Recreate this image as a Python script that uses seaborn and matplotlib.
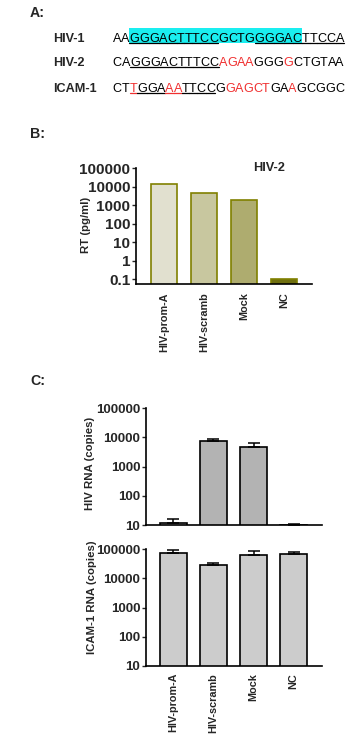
import numpy as np
import pandas as pd
import matplotlib
matplotlib.use('Agg')
import matplotlib.pyplot as plt
import seaborn as sns
from matplotlib.lines import Line2D
from matplotlib.patches import Rectangle

# ---- data ----
conditions = ['HIV-prom-A', 'HIV-scramb', 'Mock', 'NC']
rt_values = [13600, 4500, 1860, 0.1]
hiv_rna = [11.5, 7400, 4700, 10.4]
hiv_rna_err = [4.2, 1400, 1600, 0.3]
icam_rna = [72000, 28000, 62000, 67000]
icam_rna_err = [19000, 5000, 23000, 11000]

seq_names = ['HIV-1', 'HIV-2', 'ICAM-1']
seqs = ['AAGGGACTTTCCGCTGGGGACTTCCA',
        'CAGGGACTTTCCAGAAGGGGCTGTAA',
        'CTTGGAAATTCCGGAGCTGAAGCGGC']
red_pos = [[], [12, 13, 14, 15, 19], [2, 6, 7, 13, 14, 15, 16, 17, 20]]
underline_pos = [list(range(2, 12)) + list(range(16, 26)), list(range(2, 12)), list(range(2, 12))]
highlight_pos = [(2, 20), None, None]

W, H = 353, 751
sns.set_style('white')
plt.rcParams['font.family'] = ['Liberation Sans', 'DejaVu Sans']
fig = plt.figure(figsize=(W / 100, H / 100), dpi=100)


def fx(px):
    return px / W


def fy(py):
    return 1 - py / H


def make_axes(left, top, right, bottom):
    return fig.add_axes([fx(left), fy(bottom), (right - left) / W, (bottom - top) / H])


# ---- panel A: sequences ----
fig.text(fx(30), fy(17), 'A:', fontsize=10.2, fontweight='bold', va='baseline')
renderer = fig.canvas.get_renderer()
baselines = [41.7, 66.0, 91.7]
probe = fig.text(0, 0, '', fontsize=9.1)
for row, (name, seq) in enumerate(zip(seq_names, seqs)):
    yb = baselines[row]
    fig.text(fx(53), fy(yb), name, fontsize=9.1, fontweight='bold', va='baseline')
    x0 = 112.7
    widths = []
    for i in range(len(seq) + 1):
        probe.set_text(seq[:i] if i else '')
        widths.append(probe.get_window_extent(renderer).width if i else 0.0)
    if highlight_pos[row]:
        a, b = highlight_pos[row]
        fig.patches.append(Rectangle((fx(x0 + widths[a]), fy(yb + 1.2)),
                                     (widths[b + 1] - widths[a]) / W, 15 / H,
                                     transform=fig.transFigure, facecolor='#1aeef0',
                                     edgecolor='none', zorder=0))
    for i, ch in enumerate(seq):
        col = '#f03030' if i in red_pos[row] else 'black'
        fig.text(fx(x0 + widths[i]), fy(yb), ch, fontsize=9.1, color=col, va='baseline')
        if i in underline_pos[row]:
            fig.lines.append(Line2D([fx(x0 + widths[i]), fx(x0 + widths[i + 1])],
                                    [fy(yb + 1), fy(yb + 1)], transform=fig.transFigure,
                                    color=col, lw=0.9))
probe.set_text('')

# ---- panel B: RT ----
fig.text(fx(30), fy(138), 'B:', fontsize=10.2, fontweight='bold', va='baseline')
axb = make_axes(136, 168.3, 312, 284)
df_b = pd.DataFrame({'cond': conditions, 'rt': rt_values})
sns.barplot(data=df_b, x='cond', y='rt', hue='cond', legend=False,
            palette=['#e4e2cc', '#cfcd98', '#b8b664', '#808000'],
            edgecolor='#808000', linewidth=1.2, width=0.67, ax=axb)
axb.set_yscale('log')
axb.set_ylim(0.056, 1e5)
axb.set_xlim(-0.7, 3.7)
axb.set_yticks([0.1, 1, 10, 100, 1000, 10000, 100000])
axb.set_yticklabels(['0.1', '1', '10', '100', '1000', '10000', '100000'])
axb.yaxis.set_minor_locator(matplotlib.ticker.NullLocator())
axb.tick_params(axis='y', labelsize=11, length=3, width=1, left=True, pad=1)
axb.tick_params(axis='x', labelsize=7.8, rotation=90, length=0, pad=6)
for lab in axb.get_yticklabels() + axb.get_xticklabels():
    lab.set_fontweight('bold')
axb.set_xlabel('')
axb.set_ylabel('RT (pg/ml)', fontsize=8.2, fontweight='bold')
axb.yaxis.set_label_coords((91 - 136) / 176, 0.51)
axb.text(0.665, 1.0, 'HIV-2', transform=axb.transAxes, fontsize=9.2,
         fontweight='bold', ha='left', va='center')
sns.despine(ax=axb)
for sp in ['left', 'bottom']:
    axb.spines[sp].set_linewidth(1.2)
    axb.spines[sp].set_color('black')

# ---- panel C: HIV and ICAM-1 RNA ----
fig.text(fx(30), fy(385), 'C:', fontsize=10.2, fontweight='bold', va='baseline')


def rna_panel(ax, vals, errs, colors, ylabel, label_y, label_x, show_x):
    df = pd.DataFrame({'cond': conditions, 'val': vals})
    sns.barplot(data=df, x='cond', y='val', hue='cond', legend=False, palette=colors,
                edgecolor='black', linewidth=1.2, width=0.68, ax=ax)
    ax.errorbar(range(len(vals)), vals, yerr=[np.zeros(len(vals)), errs], fmt='none',
                ecolor='black', elinewidth=1.1, capsize=4.5, capthick=1.1)
    ax.set_yscale('log')
    ax.set_ylim(10, 1e5)
    ax.set_xlim(-0.69, 3.7)
    ax.set_yticks([10, 100, 1000, 10000, 100000])
    ax.set_yticklabels(['10', '100', '1000', '10000', '100000'])
    ax.yaxis.set_minor_locator(matplotlib.ticker.NullLocator())
    ax.tick_params(axis='y', labelsize=9.5, length=3, width=1, left=True, pad=1)
    ax.tick_params(axis='x', labelsize=7.8, rotation=90, length=0, pad=5)
    for lab in ax.get_yticklabels() + ax.get_xticklabels():
        lab.set_fontweight('bold')
    if not show_x:
        ax.set_xticklabels([])
    ax.set_xlabel('')
    ax.set_ylabel(ylabel, fontsize=8.2, fontweight='bold')
    ax.yaxis.set_label_coords((label_x - 145.7) / 176, label_y)
    sns.despine(ax=ax)
    for sp in ['left', 'bottom']:
        ax.spines[sp].set_linewidth(1.2)
        ax.spines[sp].set_color('black')


axc1 = make_axes(145.7, 408.3, 321.7, 525)
rna_panel(axc1, hiv_rna, hiv_rna_err, ['#cfcfcf', '#b3b3b3', '#b3b3b3', '#b3b3b3'],
          'HIV RNA (copies)', 0.53, 95, False)
axc2 = make_axes(145.7, 549.3, 321.7, 666)
rna_panel(axc2, icam_rna, icam_rna_err, ['#cccccc'] * 4,
          'ICAM-1 RNA (copies)', 0.59, 97, True)

fig.savefig('out.png', dpi=100)
